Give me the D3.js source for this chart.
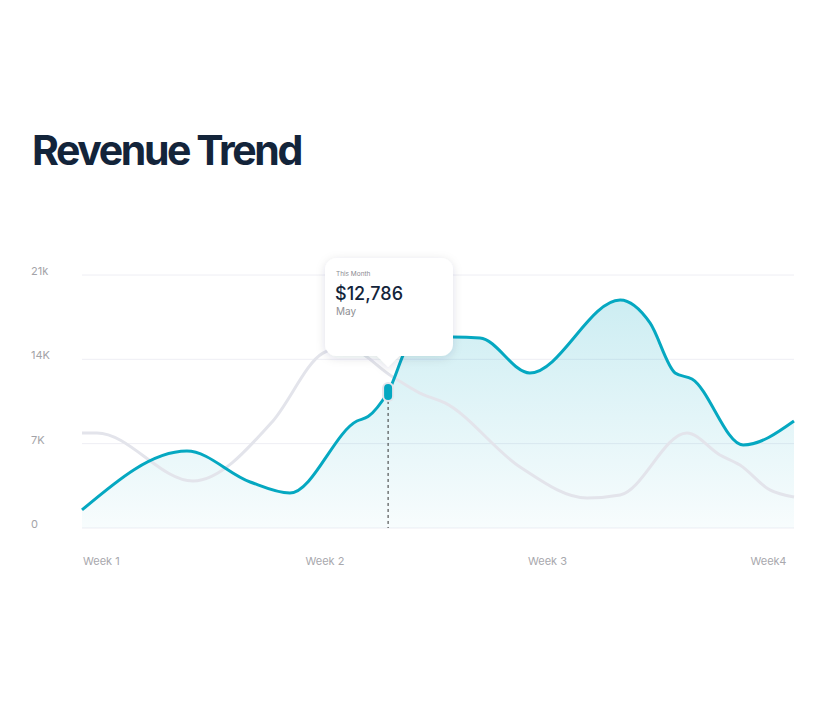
<!DOCTYPE html>
<html>
<head>
<meta charset="utf-8">
<script src="https://cdn.jsdelivr.net/npm/d3@7"></script>
<style>
  body { margin: 0; background: #fff; }
  svg { display: block; }
</style>
</head>
<body>
<svg id="chart" width="824" height="704"></svg>
<script>
// data (x in days from start of month, y in dollars)
var thisDays  = [0, 3.30, 5.29, 6.54, 8.65, 9.0, 9.63, 10.41, 11.67, 12.52, 14.09, 16.93, 17.87, 18.66, 19.19, 20.8, 22.4];
var thisVals  = [1500, 6390, 3820, 2900, 8880, 9250, 11290, 15600, 15850, 15770, 12870, 18920, 17020, 12870, 12370, 6890, 8880];
var lastDays  = [0, 0.47, 3.49, 5.98, 7.58, 8.27, 9.78, 10.63, 11.42, 13.78, 15.89, 16.93, 19.03, 20.07, 20.7, 21.64, 22.4];
var lastVals  = [7890, 7890, 3900, 8800, 14520, 15020, 12540, 11200, 10380, 5070, 2490, 2740, 7890, 6060, 5230, 3160, 2580];

var yTicks = [0, 7000, 14000, 21000];
var yTickLabels = ['0', '7K', '14K', '21k'];
var weekDays = [0, 7, 14, 21];
var weekLabels = ['Week 1', 'Week 2', 'Week 3', 'Week4'];

var focusDay = 9.63, focusVal = 11290;
var tipTitle = 'This Month', tipValue = '$12,786', tipSub = 'May';

var svg = d3.select('#chart');
var font = 'Inter, "Noto Sans", sans-serif';

var x = d3.scaleLinear().domain([0, 22.4]).range([82, 794]);
var y = d3.scaleLinear().domain([0, 21000]).range([528, 275]);

// title
svg.append('text')
    .attr('x', 32).attr('y', 165)
    .attr('font-family', font).attr('font-weight', 700)
    .attr('font-size', 41).attr('letter-spacing', -2.4)
    .attr('fill', '#13243a')
    .text('Revenue Trend');

var defs = svg.append('defs');
var grad = defs.append('linearGradient').attr('id', 'area-grad')
    .attr('gradientUnits', 'userSpaceOnUse')
    .attr('x1', 0).attr('y1', y(19000)).attr('x2', 0).attr('y2', y(0));
grad.append('stop').attr('offset', 0).attr('stop-color', '#04a6c0').attr('stop-opacity', 0.2);
grad.append('stop').attr('offset', 1).attr('stop-color', '#04a6c0').attr('stop-opacity', 0.03);

var shadow = defs.append('filter').attr('id', 'tip-shadow')
    .attr('x', -0.3).attr('y', -0.3).attr('width', 1.6).attr('height', 1.6);
shadow.append('feDropShadow').attr('dx', 0).attr('dy', 2).attr('stdDeviation', 5)
    .attr('flood-color', '#1a2a40').attr('flood-opacity', 0.13);

// grid + y labels
svg.append('g').selectAll('line').data(yTicks).enter().append('line')
    .attr('x1', 82).attr('x2', 794)
    .attr('y1', function (d) { return y(d); }).attr('y2', function (d) { return y(d); })
    .attr('stroke', '#eeeef4').attr('stroke-width', 1);

svg.append('g').selectAll('text').data(yTicks).enter().append('text')
    .attr('x', 31).attr('y', function (d) { return y(d); })
    .attr('font-family', font).attr('font-size', 11).attr('fill', '#a3a3a8')
    .text(function (d, i) { return yTickLabels[i]; });

// week labels
svg.append('g').selectAll('text').data(weekDays).enter().append('text')
    .attr('x', function (d) { return x(d) + 1; }).attr('y', 565)
    .attr('font-family', font).attr('font-size', 11).attr('fill', '#a8a8ad')
    .text(function (d, i) { return weekLabels[i]; });

var thisData = thisDays.map(function (d, i) { return [d, thisVals[i]]; });
var lastData = lastDays.map(function (d, i) { return [d, lastVals[i]]; });

var curve = d3.curveMonotoneX;
var area = d3.area().curve(curve)
    .x(function (d) { return x(d[0]); })
    .y0(y(0))
    .y1(function (d) { return y(d[1]); });
var line = d3.line().curve(curve)
    .x(function (d) { return x(d[0]); })
    .y(function (d) { return y(d[1]); });

svg.append('path').attr('d', area(thisData)).attr('fill', 'url(#area-grad)');
svg.append('path').attr('d', line(lastData))
    .attr('fill', 'none').attr('stroke', '#e3e4eb').attr('stroke-width', 3);
svg.append('path').attr('d', line(thisData))
    .attr('fill', 'none').attr('stroke', '#05a8c1').attr('stroke-width', 3);

// focus marker
var fx = x(focusDay), fy = y(focusVal);
svg.append('line')
    .attr('x1', fx).attr('x2', fx).attr('y1', fy + 9).attr('y2', y(0))
    .attr('stroke', '#333').attr('stroke-width', 1).attr('stroke-dasharray', '3,3');
svg.append('rect')
    .attr('x', fx - 6).attr('y', fy - 10).attr('width', 12).attr('height', 20).attr('rx', 6)
    .attr('fill', '#e4e6ec');
svg.append('rect')
    .attr('x', fx - 4).attr('y', fy - 8).attr('width', 8).attr('height', 16).attr('rx', 4)
    .attr('fill', '#05a8c1');

// tooltip
var tx = 325, ty = 258, tw = 128, th = 98, r = 12;
var tip = svg.append('g').attr('filter', 'url(#tip-shadow)');
var p = d3.path();
p.moveTo(tx + r, ty);
p.lineTo(tx + tw - r, ty);
p.arcTo(tx + tw, ty, tx + tw, ty + r, r);
p.lineTo(tx + tw, ty + th - r);
p.arcTo(tx + tw, ty + th, tx + tw - r, ty + th, r);
p.lineTo(fx + 11, ty + th);
p.lineTo(fx, ty + th + 11);
p.lineTo(fx - 11, ty + th);
p.lineTo(tx + r, ty + th);
p.arcTo(tx, ty + th, tx, ty + th - r, r);
p.lineTo(tx, ty + r);
p.arcTo(tx, ty, tx + r, ty, r);
p.closePath();
tip.append('path').attr('d', p.toString()).attr('fill', '#fff');

svg.append('text').attr('x', tx + 11).attr('y', ty + 18)
    .attr('font-family', font).attr('font-size', 6.5).attr('fill', '#8a8a90')
    .text(tipTitle);
svg.append('text').attr('x', tx + 10).attr('y', ty + 42)
    .attr('font-family', font).attr('font-size', 18).attr('font-weight', 500).attr('fill', '#13243a')
    .text(tipValue);
svg.append('text').attr('x', tx + 11).attr('y', ty + 57)
    .attr('font-family', font).attr('font-size', 10).attr('fill', '#8f8f94')
    .text(tipSub);
</script>
</body>
</html>
